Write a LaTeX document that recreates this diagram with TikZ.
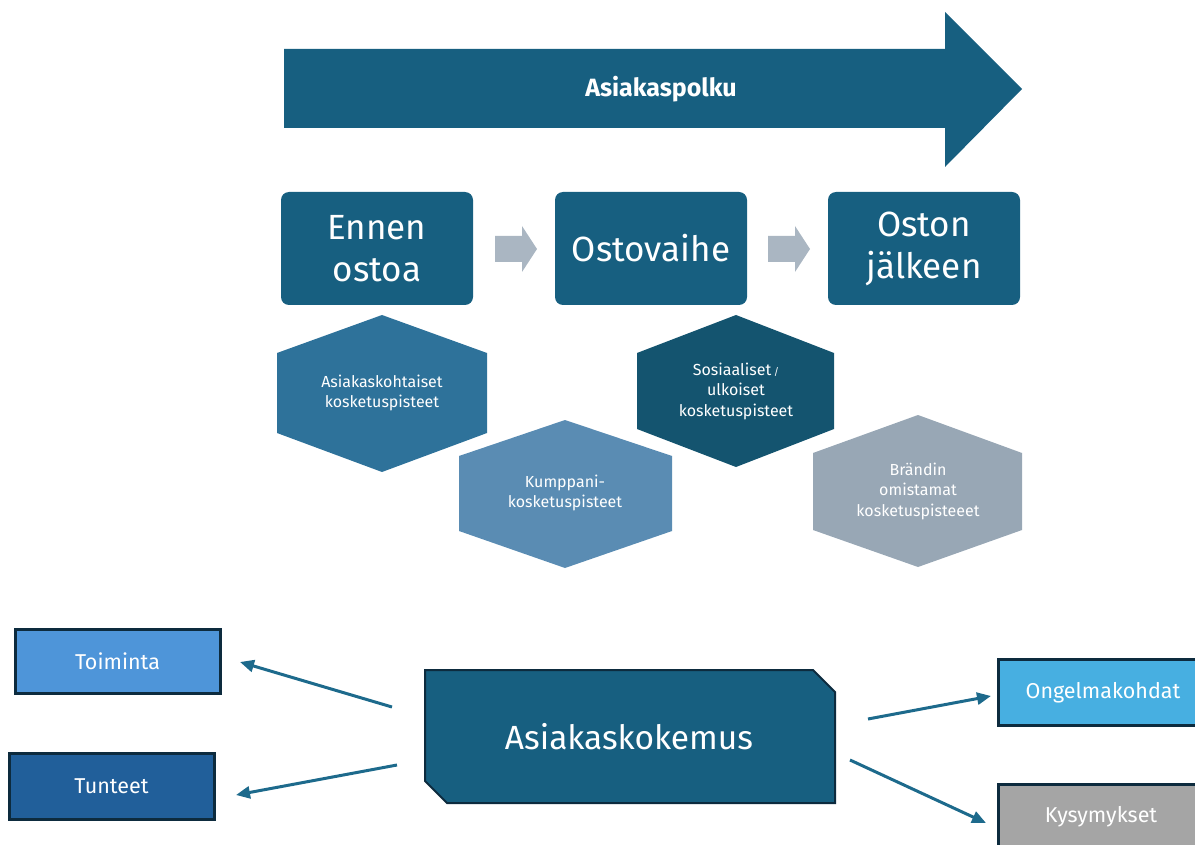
\documentclass[tikz,border=0pt]{standalone}
\usepackage{fontspec}
\setmainfont{Fira Sans}
\usetikzlibrary{arrows.meta}
\definecolor{cDark}{HTML}{175F80}
\definecolor{cGrayArrow}{HTML}{AAB6C2}
\definecolor{cHexA}{HTML}{2E729A}
\definecolor{cHexB}{HTML}{5A8CB3}
\definecolor{cHexC}{HTML}{14546F}
\definecolor{cHexD}{HTML}{98A7B5}
\definecolor{cToim}{HTML}{4E95D9}
\definecolor{cTunt}{HTML}{215F9A}
\definecolor{cOng}{HTML}{47AFE1}
\definecolor{cKys}{HTML}{A5A5A5}
\definecolor{cBorder}{HTML}{0D2B3E}
\definecolor{cLink}{HTML}{1D6A8C}
\begin{document}
\begin{tikzpicture}[x=1pt,y=-1pt,
  phase/.style={fill=cDark, rounded corners=8pt, minimum width=192pt, minimum height=113pt,
    text=white, align=center, font=\fontsize{35}{42}\selectfont, inner sep=0pt},
  hextext/.style={text=white, align=center, font=\fontsize{16}{20.5}\selectfont},
  outbox/.style={draw=cBorder, line width=3pt, text=white, minimum height=64pt,
    font=\fontsize{21.5}{24}\selectfont, inner sep=0pt},
  link/.style={draw=cLink, line width=3pt, -{Triangle[length=14pt,width=12pt]}}
]
\useasboundingbox (0,0) rectangle (1195,845);

% big journey arrow
\fill[cDark] (284,49) -- (945,49) -- (945,12) -- (1022,89) -- (945,167) -- (945,128) -- (284,128) -- cycle;
\node[text=white, font=\bfseries\fontsize{25}{28}\selectfont] (journey) at (661,89) {Asiakaspolku};

% phases
\node[phase] (p1) at (377,248.5) {Ennen\\ostoa};
\node[phase] (p2) at (651,248.5) {Ostovaihe};
\node[phase] (p3) at (924,248.5) {Oston\\jälkeen};

% small gray arrows
\fill[cGrayArrow] (495,236) -- (522,236) -- (522,226) -- (537,249) -- (522,272) -- (522,262) -- (495,262) -- cycle;
\fill[cGrayArrow] (768,236) -- (795,236) -- (795,226) -- (810,249) -- (795,272) -- (795,262) -- (768,262) -- cycle;

% hexagons
\fill[cHexA] (382,315) -- (487,353) -- (487,433) -- (382,472) -- (277,433) -- (277,353) -- cycle;
\node[hextext] (h1) at (382,393) {Asiakaskohtaiset\\kosketuspisteet};

\fill[cHexB] (565,420) -- (672,456) -- (672,531) -- (565,568) -- (459,531) -- (459,456) -- cycle;
\node[hextext] (h2) at (565,493) {Kumppani-\\kosketuspisteet};

\fill[cHexC] (736,315) -- (834,353) -- (834,429) -- (736,467) -- (637,429) -- (637,353) -- cycle;
\node[hextext] (h3) at (736,391) {Sosiaaliset\,{\fontsize{10}{12}\selectfont/}\\ulkoiset\\kosketuspisteet};

\fill[cHexD] (918,415) -- (1022,453) -- (1022,530) -- (918,567) -- (813,530) -- (813,453) -- cycle;
\node[hextext] (h4) at (918,491) {Brändin\\omistamat\\kosketuspisteeet};

% bottom part
\node[outbox, fill=cToim, minimum width=205pt] (toim) at (117.5,661) {Toiminta};
\node[outbox, fill=cTunt, minimum width=205pt, minimum height=66pt] (tunt) at (111.5,786) {Tunteet};
\node[outbox, fill=cOng, minimum width=205pt, minimum height=66pt] (ong) at (1100.5,692.5) {};
\node[text=white, font=\fontsize{21.5}{24}\selectfont] (ongt) at (1103,692.5) {Ongelmakohdat};
\node[outbox, fill=cKys, minimum width=205pt, minimum height=66pt] (kys) at (1100.5,817) {};
\node[text=white, font=\fontsize{21.5}{24}\selectfont] (kyst) at (1101,817) {Kysymykset};

\filldraw[fill=cDark, draw=cBorder, line width=2pt] (425,670) -- (813,670) -- (835,692) -- (835,803) -- (447,803) -- (425,781) -- cycle;
\node[text=white, font=\fontsize{33.5}{38}\selectfont] (exp) at (629,737) {Asiakaskokemus};

% connectors
\coordinate (s1) at (392,707);
\coordinate (e1) at (240,662);
\coordinate (s2) at (397,765);
\coordinate (e2) at (236,795);
\coordinate (s3) at (868,719);
\coordinate (e3) at (991,696);
\coordinate (s4) at (850,760);
\coordinate (e4) at (986,823);
\draw[link] (s1) -- (e1);
\draw[link] (s2) -- (e2);
\draw[link] (s3) -- (e3);
\draw[link] (s4) -- (e4);
\end{tikzpicture}
\end{document}
